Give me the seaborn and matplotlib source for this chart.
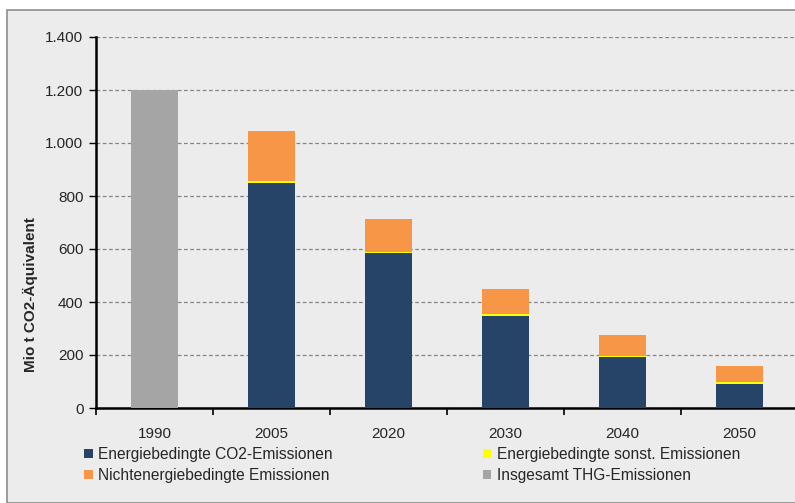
import matplotlib
matplotlib.use("Agg")
import matplotlib.pyplot as plt
from matplotlib.patches import Patch, Rectangle
from matplotlib.ticker import FuncFormatter, FixedLocator
import seaborn as sns
import pandas as pd

years = ["1990", "2005", "2020", "2030", "2040", "2050"]
co2_energy = [0, 848, 584, 348, 192, 92]          # Energiebedingte CO2-Emissionen
other_energy = [0, 9, 5, 8, 4, 6]                 # Energiebedingte sonst. Emissionen
non_energy = [0, 188, 123, 93, 78, 60]            # Nichtenergiebedingte Emissionen
total_ghg = [1200, 0, 0, 0, 0, 0]                 # Insgesamt THG-Emissionen

labels = ["Energiebedingte CO2-Emissionen", "Energiebedingte sonst. Emissionen",
          "Nichtenergiebedingte Emissionen", "Insgesamt THG-Emissionen"]
colors = ["#264468", "#ffff00", "#f79646", "#a5a5a5"]

# cumulative heights for the stacked layers
lvl1 = co2_energy
lvl2 = [a + b for a, b in zip(lvl1, other_energy)]
lvl3 = [a + b for a, b in zip(lvl2, non_energy)]

df = pd.DataFrame({"year": years, "co2": lvl1, "other": lvl2,
                   "non": lvl3, "total": total_ghg})

sns.set_style("white")
plt.rcParams["font.family"] = ["Liberation Sans", "DejaVu Sans"]

bg = "#ececec"
fig = plt.figure(figsize=(7.95, 5.03), dpi=100, facecolor="white")
# chart frame
frame = Rectangle((7 / 795, 0), 1, 1 - 10 / 503, transform=fig.transFigure,
                  facecolor=bg, edgecolor="#8c8c8c", linewidth=1.2, zorder=-10)
fig.add_artist(frame)

ax = fig.add_axes([96 / 795, 1 - 408 / 503, 702 / 795, 371 / 503])
ax.set_zorder(1)
ax.set_facecolor(bg)

# tallest layer first, each following layer drawn over it
for col, c in [("total", colors[3]), ("non", colors[2]), ("other", colors[1]), ("co2", colors[0])]:
    sns.barplot(data=df, x="year", y=col, order=years, color=c, width=0.4,
                saturation=1, ax=ax, edgecolor="none", linewidth=0, zorder=3)

ax.set_xlim(-0.5, 5.5)
ax.set_ylim(0, 1400)
ax.set_yticks(range(0, 1401, 200))
ax.yaxis.set_major_formatter(FuncFormatter(lambda v, p: f"{int(v):,}".replace(",", ".")))
ax.yaxis.grid(True, color="#858585", linestyle=(0, (3, 2)), linewidth=0.9, zorder=0)
ax.set_axisbelow(True)

ax.xaxis.set_minor_locator(FixedLocator([i - 0.5 for i in range(7)]))
ax.tick_params(axis="x", which="major", length=0, pad=14, labelsize=11)
ax.tick_params(axis="x", which="minor", length=5, width=1.2, color="black",
               direction="out", bottom=True)
ax.tick_params(axis="y", which="major", length=5, width=1, color="black", direction="out",
               labelsize=11, pad=4, left=True)

for s in ["top", "right"]:
    ax.spines[s].set_visible(False)
for s in ["left", "bottom"]:
    ax.spines[s].set_color("black")
    ax.spines[s].set_linewidth(1.8)

ax.set_xlabel("")
ax.set_ylabel("")
fig.text(30 / 795, 1 - 295 / 503, "Mio t CO2-Äquivalent", rotation=90,
         ha="center", va="center", fontsize=11, fontweight="bold")

handles = [Patch(facecolor=c, edgecolor="none") for c in colors]
order = [0, 2, 1, 3]
fig.legend([handles[i] for i in order], [labels[i] for i in order], ncol=2,
           loc="upper left", bbox_to_anchor=(84 / 795, 1 - 447 / 503), frameon=False,
           fontsize=11.2, handlelength=0.55, handleheight=0.55, handletextpad=0.35,
           columnspacing=9.65, labelspacing=0.4, borderaxespad=0, borderpad=0)

fig.savefig("out.png", dpi=100, facecolor="white")
